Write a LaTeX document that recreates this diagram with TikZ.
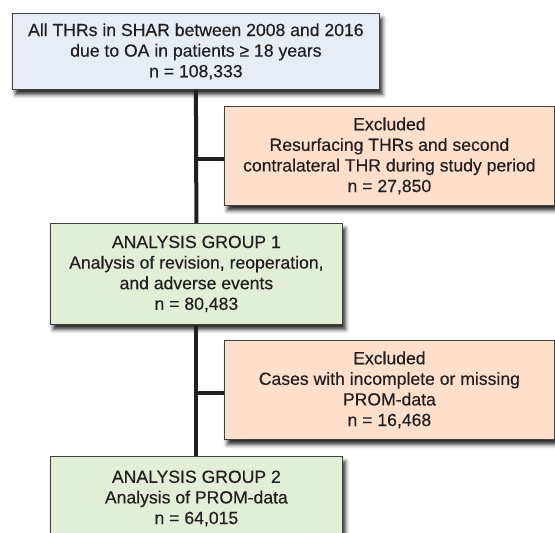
\documentclass[tikz,border=0pt]{standalone}
\usepackage{fontspec}
\setmainfont{Liberation Sans}
\newfontfamily\flowfont[RawFeature={embolden=0.4}]{Liberation Sans}
\usepackage{xcolor}
\usepackage{tikz}
\usetikzlibrary{positioning,shadows,shadows.blur}

\definecolor{startblue}{HTML}{E6EDF7}
\definecolor{exclpeach}{HTML}{FDDFCC}
\definecolor{groupgreen}{HTML}{E2EFD7}
\definecolor{inkgray}{HTML}{231F20}

\begin{document}
\begin{tikzpicture}[
    x=1pt, y=-1pt,
    box/.style={rectangle, draw=black!75, line width=0.8pt, anchor=north west, align=center, inner sep=2pt,
      text=inkgray, font=\flowfont\fontsize{17.6}{20.6}\selectfont,
      blur shadow={shadow xshift=3pt, shadow yshift=-5pt, shadow blur radius=4pt, shadow opacity=85}},
    startbox/.style={box, fill=startblue, minimum width=367pt, minimum height=76pt},
    exclbox/.style={box, fill=exclpeach, minimum width=330pt, minimum height=99pt},
    groupbox/.style={box, fill=groupgreen, minimum width=292pt, minimum height=101pt},
    link/.style={line width=4pt, draw=inkgray}
  ]
    \useasboundingbox (0,0) rectangle (555,533);
    \clip (0,0) rectangle (555,533);

    % Nodes
    \node[startbox] (all) at (12,13) {All THRs in SHAR between 2008 and 2016\\due to OA in patients \char"2265{} 18 years\\n = 108,333};
    \node[exclbox] (ex1) at (224,106) {Excluded\\Resurfacing THRs and second\\contralateral THR during study period\\n = 27,850};
    \node[groupbox] (g1) at (50,223) {ANALYSIS GROUP 1\\Analysis of revision, reoperation,\\and adverse events\\n = 80,483};
    \node[exclbox] (ex2) at (224,340) {Excluded\\Cases with incomplete or missing\\PROM-data\\n = 16,468};
    \node[groupbox, minimum height=84pt] (g2) at (50,456) {ANALYSIS GROUP 2\\Analysis of PROM-data\\n = 64,015};

    % Lines
    \draw[link] (all.south) -- (g1.north);
    \draw[link] (g1.south) -- (g2.north);
    \draw[link] ([xshift=-2pt]all.south |- ex1.west) ++(0,3) -- ([yshift=-3pt]ex1.west);
    \draw[link] ([xshift=-2pt]g1.south |- ex2.west) ++(0,3) -- ([yshift=-3pt]ex2.west);
  \end{tikzpicture}
\end{document}
